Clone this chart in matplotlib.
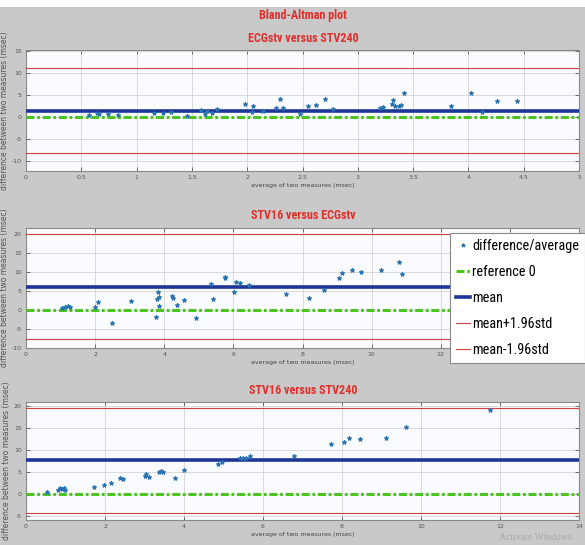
import matplotlib
matplotlib.use('Agg')
import matplotlib.pyplot as plt
from matplotlib import font_manager
from matplotlib.patches import Rectangle
import numpy as np

# ---- data ----
# panel 1: ECGstv versus STV240
p1_avg = [0.57, 0.64, 0.66, 0.74, 0.83, 1.16, 1.24, 1.31, 1.46, 1.58, 1.62, 1.64, 1.68,
          1.73, 1.98, 2.04, 2.05, 2.14, 2.26, 2.30, 2.32, 2.48, 2.55, 2.62, 2.70, 2.78,
          3.20, 3.23, 3.31, 3.32, 3.34, 3.37, 3.39, 3.42, 3.84, 4.02, 4.12, 4.26, 4.44]
p1_diff = [0.5, 0.9, 0.75, 0.7, 0.5, 0.9, 0.9, 1.0, 0.3, 1.5, 0.75, 1.3, 0.9,
           1.8, 2.9, 1.0, 2.4, 1.3, 2.0, 4.0, 2.0, 0.75, 2.5, 2.7, 4.1, 1.8,
           2.0, 2.2, 3.0, 3.9, 2.5, 2.4, 2.7, 5.5, 2.4, 5.5, 1.1, 3.7, 3.5]
# panel 2: STV16 versus ECGstv
p2_avg = [1.05, 1.14, 1.21, 1.27, 2.00, 2.08, 2.48, 3.04, 3.77, 3.79, 3.82, 3.84, 3.86,
          4.23, 4.25, 4.38, 4.56, 4.91, 5.34, 5.40, 5.75, 5.77, 6.01, 6.09, 6.20, 6.44,
          7.51, 8.19, 8.63, 9.07, 9.15, 9.42, 9.69, 10.28, 10.79, 10.87]
p2_diff = [0.6, 0.8, 0.9, 0.8, 0.8, 2.2, -3.5, 2.4, -1.9, 2.8, 4.6, 3.3, 0.9,
           3.7, 3.1, 1.3, 2.6, -2.2, 6.8, 2.8, 8.7, 8.4, 4.6, 7.2, 7.0, 6.6,
           4.1, 3.0, 5.2, 8.5, 9.7, 10.6, 9.9, 10.6, 12.7, 9.4]
# panel 3: STV16 versus STV240
p3_avg = [0.52, 0.81, 0.85, 0.90, 0.97, 0.99, 1.73, 1.97, 2.14, 2.39, 2.45, 3.01, 3.03,
          3.12, 3.36, 3.43, 3.48, 3.78, 4.01, 4.85, 4.95, 5.42, 5.49, 5.56, 5.68, 6.78,
          7.73, 8.06, 8.18, 8.46, 9.12, 9.63, 11.74]
p3_diff = [0.5, 1.0, 1.4, 1.2, 1.4, 1.0, 1.6, 2.1, 2.5, 3.7, 3.4, 4.2, 4.7,
           3.9, 5.1, 5.2, 5.1, 3.7, 5.6, 6.9, 7.3, 8.2, 8.2, 8.2, 8.6, 8.8,
           11.5, 11.9, 12.8, 12.6, 12.8, 15.3, 19.2]

titles = ['ECGstv versus STV240', 'STV16 versus ECGstv', 'STV16 versus STV240']
means = [1.45, 6.1, 7.7]
upper = [11.1, 20.0, 19.7]
lower = [-8.2, -7.7, -4.3]
xlims = [(0, 5), (0, 16), (0, 14)]
ylims = [(-12.3, 15.2), (-10, 21.5), (-5.9, 21.0)]
xticks = [np.arange(0, 5.01, 0.5), np.arange(0, 16.1, 2), np.arange(0, 14.1, 2)]
yticks = [np.arange(-10, 16, 5), np.arange(-10, 21, 5), np.arange(-5, 21, 5)]

# look for a condensed sans face, else plain Liberation Sans
names = set(f.name for f in font_manager.fontManager.ttflist)
narrow_font = 'Liberation Sans'
narrow_stretch = 'normal'
for cand in ['Liberation Sans Narrow', 'Roboto Condensed', 'Open Sans Condensed', 'Noto Sans Condensed']:
    if cand in names:
        narrow_font = cand
        break
else:
    for f in font_manager.fontManager.ttflist:
        if f.name in ('Noto Sans', 'DejaVu Sans', 'Roboto') and f.stretch in ('condensed', 'semi-condensed', 500, 300):
            narrow_font = f.name
            narrow_stretch = 'condensed'
            break

red_txt = '#e0302c'
W, H = 585., 545.

fig = plt.figure(figsize=(5.85, 5.45), dpi=100)
fig.patch.set_facecolor('#c9c9c9')
fig.patches.append(Rectangle((0, 1 - 7 / H), 1, 7 / H, transform=fig.transFigure,
                             facecolor='white', edgecolor='none', zorder=0))
renderer = fig.canvas.get_renderer()


def fit_size(txt, width_px, weight='normal', start=10):
    # font size that gives the text the wanted width in pixels
    t = fig.text(0, 0, txt, fontsize=start, family=narrow_font, stretch=narrow_stretch,
                 fontweight=weight)
    w = t.get_window_extent(renderer).width
    t.remove()
    return start * width_px / w


# axes boxes in pixels (top, bottom)
boxes = [(50, 171), (228, 348), (402, 520)]
axs = []
for (top, bot) in boxes:
    axs.append(fig.add_axes([26 / W, 1 - bot / H, 553 / W, (bot - top) / H]))


def fmt(v):
    return ('%g' % v)


for i, ax in enumerate(axs):
    avg = [p1_avg, p2_avg, p3_avg][i]
    dif = [p1_diff, p2_diff, p3_diff][i]
    ax.set_facecolor('#fafbfe')
    ax.plot(avg, dif, ls='none', marker='*', ms=3.4, mew=0.7, color='#2872b0',
            label='difference/average', zorder=5)
    ax.axhline(0, color='#4cc420', lw=2.2, ls=(0, (2.6, 0.9, 0.9, 0.9)), label='reference 0', zorder=3)
    ax.axhline(means[i], color='#1c3597', lw=2.6, label='mean', zorder=4)
    ax.axhline(upper[i], color='#c8443c', lw=0.8, label='mean+1.96std', zorder=4)
    ax.axhline(lower[i], color='#c8443c', lw=0.8, label='mean-1.96std', zorder=4)
    ax.set_xlim(xlims[i])
    ax.set_ylim(ylims[i])
    ax.set_xticks(xticks[i])
    ax.set_xticklabels([fmt(v) for v in xticks[i]])
    ax.set_yticks(yticks[i])
    ax.set_yticklabels([fmt(v) for v in yticks[i]])
    ax.grid(color='#d4d4d4', lw=0.6)
    ax.tick_params(direction='in', length=3, width=0.6, color='#555555',
                   labelsize=4.5, labelcolor='#555555', top=True, right=True, pad=3)
    for s in ax.spines.values():
        s.set_color('#8a8a8a')
        s.set_linewidth(0.8)
    ax.set_xlabel('average of two measures (msec)', fontsize=4.5, color='#444444', labelpad=2)
    ax.set_ylabel('difference between two measures (msec)', fontsize=5.5, color='#555555', labelpad=2)

# titles
tsize = fit_size(titles[0], 111, 'bold')
title_y = [16, 38, 215, 391]
title_txt = ['Bland-Altman plot'] + titles
for ty, tt in zip(title_y, title_txt):
    fig.text(303 / W, 1 - ty / H, tt, ha='center', va='center', color=red_txt,
             fontsize=tsize, fontweight='bold', family=narrow_font, stretch=narrow_stretch)

lsize = fit_size('difference/average', 106)
leg = axs[1].legend(loc='upper left', bbox_to_anchor=(450 / W, 1 - 233 / H),
                    bbox_transform=fig.transFigure, borderaxespad=0, fancybox=False,
                    framealpha=1, edgecolor='#8a8a8a', handlelength=1.0, handletextpad=0.15,
                    labelspacing=0.85, borderpad=0.4, markerscale=0.8,
                    prop={'family': narrow_font, 'size': lsize, 'stretch': narrow_stretch})
leg.get_frame().set_linewidth(0.8)
leg.set_zorder(10)

fig.text(535 / W, 1 - 538 / H, 'Activate Windows', ha='center', va='center',
         color='#a9a9a9', fontsize=7, family='Liberation Serif')

fig.savefig('out.png', dpi=100, facecolor=fig.get_facecolor())
